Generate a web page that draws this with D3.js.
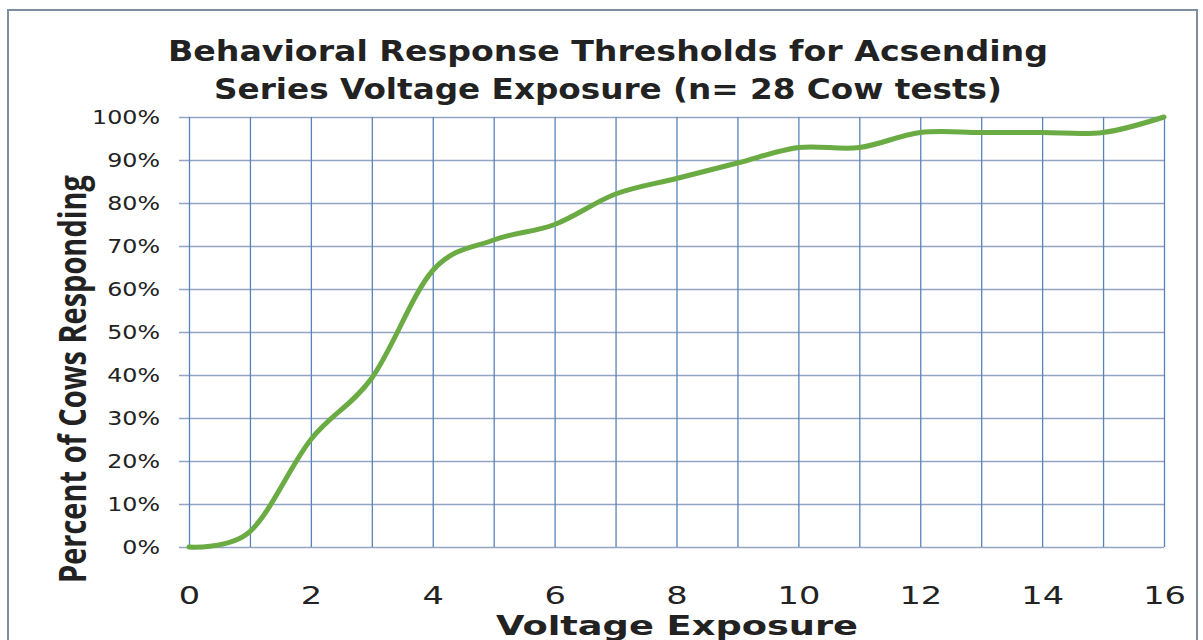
<!DOCTYPE html>
<meta charset="utf-8">
<style>
  body { margin: 0; background: #fff; }
  text { fill: #222; }
</style>
<svg width="1203" height="640"></svg>
<script src="https://d3js.org/d3.v7.min.js"></script>
<script>

// values (n = 28 cows, so steps of ~3.6%)
var voltage = [0, 1, 2, 3, 4, 5, 6, 7, 8, 9, 10, 11, 12, 13, 14, 15, 16];
var percentResponding = [0, 3.6, 25, 39.3, 64.3, 71.4, 75, 82.1, 85.7, 89.3, 92.9, 92.9, 96.4, 96.4, 96.4, 96.4, 100];
var xLabels = [0, 2, 4, 6, 8, 10, 12, 14, 16];
var yTicks = [0, 10, 20, 30, 40, 50, 60, 70, 80, 90, 100];
var titleLines = ["Behavioral Response Thresholds for Acsending", "Series Voltage Exposure (n= 28 Cow tests)"];

var svg = d3.select("svg");

var x = d3.scaleLinear().domain([0, 16]).range([189, 1164]),
    y = d3.scaleLinear().domain([0, 100]).range([547, 117]);

// frame round the whole chart
svg.append("rect")
    .attr("x", 8).attr("y", 10)
    .attr("width", 1189).attr("height", 660)
    .attr("fill", "#fff")
    .attr("stroke", "#7d8da0")
    .attr("stroke-width", 2);

// horizontal grid + % labels
var yAxis = svg.append("g")
    .attr("transform", "translate(" + x(16) + ",0)")
    .call(d3.axisLeft(y)
        .tickValues(yTicks)
        .tickSize(x(16) - 179)
        .tickPadding(19)
        .tickFormat(function(d) { return d + "%"; }));
yAxis.select(".domain").remove();
yAxis.selectAll("line").attr("stroke", "#93a5c2").attr("stroke-width", 1.3);
yAxis.selectAll("text")
    .style("font-family", "DejaVu Sans, Verdana, sans-serif")
    .style("font-size", "19px")
    .attr("fill", "#222");

// vertical grid, one line per volt
var xGrid = svg.append("g")
    .attr("transform", "translate(0," + y(0) + ")")
    .call(d3.axisBottom(x)
        .tickValues(voltage)
        .tickSize(-(y(0) - y(100)))
        .tickFormat(""));
xGrid.select(".domain").remove();
xGrid.selectAll("line").attr("stroke", "#5a82ba").attr("stroke-width", 1.3);

// x labels every 2 volts
var xAxis = svg.append("g")
    .attr("transform", "translate(0," + y(0) + ")")
    .call(d3.axisBottom(x)
        .tickValues(xLabels)
        .tickSize(0)
        .tickPadding(40));
xAxis.select(".domain").remove();
xAxis.selectAll("text")
    .style("font-family", "DejaVu Sans, Verdana, sans-serif")
    .style("font-size", "24px")
    .attr("fill", "#222");

// the source text is stretched sideways
yAxis.selectAll("text").each(function() {
  this.setAttribute("textLength", this.getComputedTextLength() * 1.25);
  this.setAttribute("lengthAdjust", "spacingAndGlyphs");
});
xAxis.selectAll("text").each(function() {
  this.setAttribute("textLength", this.getComputedTextLength() * 1.4);
  this.setAttribute("lengthAdjust", "spacingAndGlyphs");
});

// response curve (Excel style smoothed line)
var line = d3.line()
    .x(function(d, i) { return x(voltage[i]); })
    .y(function(d) { return y(d); })
    .curve(d3.curveCardinal.tension(0));

svg.append("path")
    .datum(percentResponding)
    .attr("d", line)
    .attr("fill", "none")
    .attr("stroke", "#6aab43")
    .attr("stroke-width", 5)
    .attr("stroke-linecap", "round");

// titles
var titleWidths = [880, 788];
svg.selectAll(".title")
    .data(titleLines)
  .enter().append("text")
    .attr("class", "title")
    .attr("x", 608)
    .attr("y", function(d, i) { return 61 + i * 38; })
    .attr("text-anchor", "middle")
    .attr("textLength", function(d, i) { return titleWidths[i]; })
    .attr("lengthAdjust", "spacingAndGlyphs")
    .style("font-family", "DejaVu Sans, Verdana, sans-serif")
    .style("font-weight", "bold")
    .style("font-size", "28px")
    .attr("fill", "#1f2b29")
    .text(function(d) { return d; });

svg.append("text")
    .attr("x", 677)
    .attr("y", 635)
    .attr("text-anchor", "middle")
    .attr("textLength", 362)
    .attr("lengthAdjust", "spacingAndGlyphs")
    .style("font-family", "DejaVu Sans, Verdana, sans-serif")
    .style("font-weight", "bold")
    .style("font-size", "26px")
    .attr("fill", "#1f2b29")
    .text("Voltage Exposure");

svg.append("text")
    .attr("transform", "translate(86,379) rotate(-90)")
    .attr("text-anchor", "middle")
    .attr("textLength", 408)
    .attr("lengthAdjust", "spacingAndGlyphs")
    .style("font-family", "Liberation Sans Narrow, Open Sans, sans-serif")
    .style("font-weight", "bold")
    .style("font-size", "37px")
    .attr("fill", "#1a1a1a")
    .text("Percent of Cows Responding");

</script>
